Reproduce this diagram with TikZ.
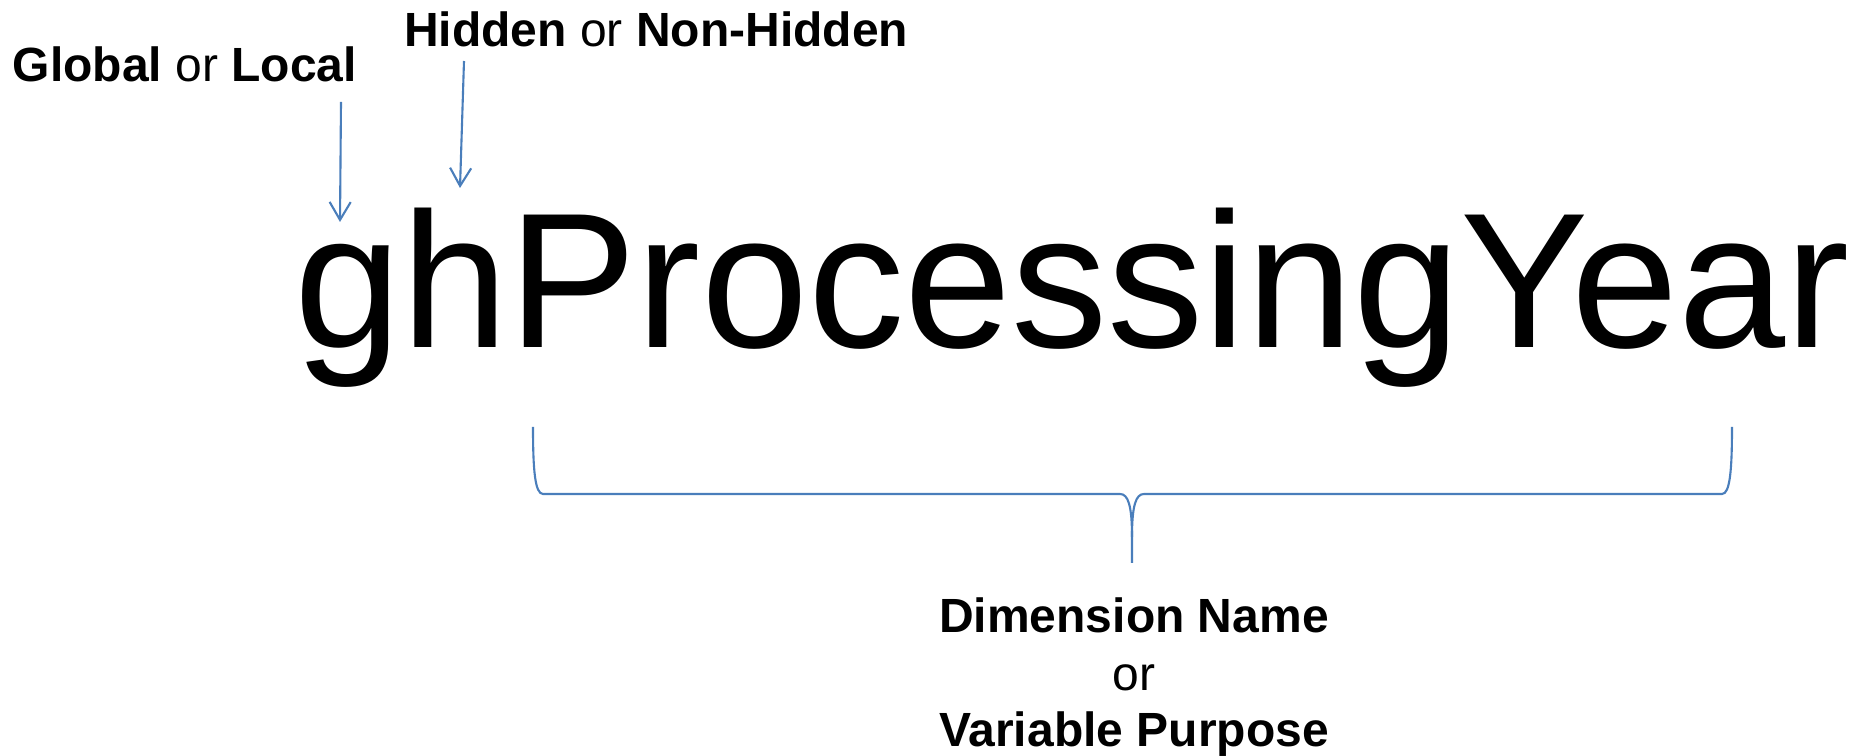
\documentclass[tikz,border=0pt]{standalone}
\usepackage{fontspec}
\setmainfont{Liberation Sans}
\usetikzlibrary{arrows.meta}
\definecolor{linkblue}{RGB}{74,126,187}
\tikzset{
  big/.style={font=\fontsize{54.77pt}{60pt}\selectfont, inner sep=0pt, anchor=base west},
  lbl/.style={font=\fontsize{13.66pt}{16pt}\selectfont, inner sep=0pt},
  conn/.style={draw=linkblue, line width=0.6pt, -{Straight Barb[length=5.1pt,width=6pt]}},
  bracepath/.style={draw=linkblue, line width=0.6pt}
}
\begin{document}
\begin{tikzpicture}[x=0.1mm, y=-0.1mm]
\useasboundingbox (0,0) rectangle (1856,756);
% main word
\node[big] (word) at (293.8,348) {ghProcessingYear};
% top labels
\node[lbl, anchor=base west] (gl) at (12,82) {\textbf{Global} or \textbf{Local}};
\node[lbl, anchor=base west] (hn) at (403.5,47) {\textbf{Hidden} or \textbf{Non-Hidden}};
% arrows
\coordinate (a1s) at (341,102);
\coordinate (a1e) at (340,222);
\coordinate (a2s) at (464,61);
\coordinate (a2e) at (460,188);
\draw[conn] (a1s) -- (a1e);
\draw[conn] (a2s) -- (a2e);
% brace
\coordinate (bl) at (533,427);
\coordinate (br) at (1732,427);
\coordinate (bm) at (1132,537);
\coordinate (bt) at (1132,563);
\draw[bracepath] (bl) .. controls (533,470) and (535,494) .. (543,494) -- (1120,494)
   .. controls (1128,494) and (1132,505) .. (bm) -- (bt);
\draw[bracepath] (br) .. controls (1732,470) and (1730,494) .. (1722,494) -- (1144,494)
   .. controls (1136,494) and (1132,505) .. (bm);
% bottom labels
\node[lbl, anchor=base] (dim) at (1134,633) {\textbf{Dimension Name}};
\node[lbl, anchor=base] (orw) at (1134,691) {or};
\node[lbl, anchor=base] (purp) at (1134,747) {\textbf{Variable Purpose}};
\end{tikzpicture}
\end{document}
